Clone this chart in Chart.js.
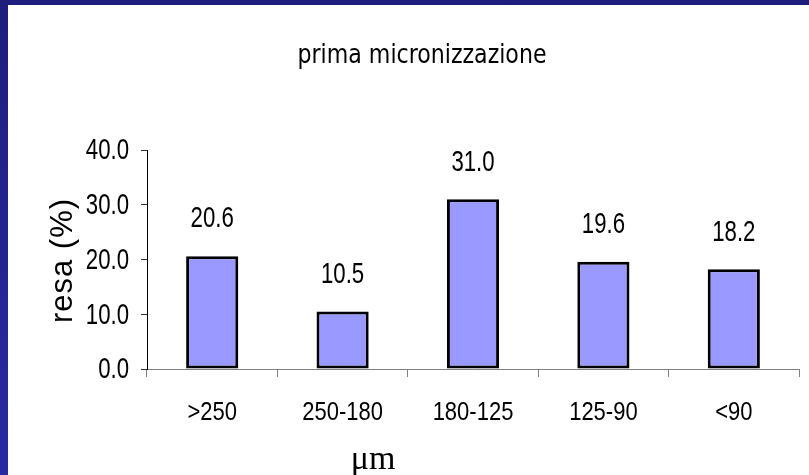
<!DOCTYPE html>
<html>
<head>
<meta charset="utf-8">
<script src="https://cdn.jsdelivr.net/npm/chart.js@4.4.0/dist/chart.umd.min.js"></script>
<style>
  html, body { margin: 0; padding: 0; }
  body { width: 809px; height: 475px; background: linear-gradient(#1e1e7c, #2a2aa2); position: relative; overflow: hidden; }
  #box { position: absolute; left: 8px; top: 5px; width: 801px; height: 470px; background: #fff; }
</style>
</head>
<body>
<div id="box"><canvas id="chart"></canvas></div>
<script>
// ===== DATA =====
const categories = [">250", "250-180", "180-125", "125-90", "<90"];
const resa = [20.6, 10.5, 31.0, 19.6, 18.2];
const yTicks = [0, 10, 20, 30, 40];

const chartTitle = "prima micronizzazione";
const yTitle = "resa (%)";
const xTitle = "\u03bcm";

const sansFont = "'Liberation Sans', Arial, sans-serif";

// draws text squeezed horizontally (the original font is a narrow one)
function narrowText(ctx, text, x, y, size, squeeze, align) {
  ctx.save();
  ctx.font = size + "px " + sansFont;
  ctx.translate(x, y);
  ctx.scale(squeeze, 1);
  ctx.textAlign = align;
  ctx.textBaseline = "middle";
  ctx.fillText(text, 0, 0);
  ctx.restore();
}

// ===== EXTRA TEXT (labels, titles) =====
const textPlugin = {
  id: "texts",
  afterDatasetsDraw(chart) {
    const ctx = chart.ctx;
    const area = chart.chartArea;
    const xs = chart.scales.x;
    const ys = chart.scales.y;
    ctx.save();
    ctx.fillStyle = "#000";

    // y tick labels
    yTicks.forEach(v => {
      narrowText(ctx, v.toFixed(1), area.left - 18, ys.getPixelForValue(v) + 1, 30, 0.74, "right");
    });

    // category labels
    categories.forEach((c, i) => {
      narrowText(ctx, c, xs.getPixelForValue(i), area.bottom + 44, 25, 0.88, "center");
    });

    // value labels above the bars
    const meta = chart.getDatasetMeta(0);
    meta.data.forEach((bar, i) => {
      narrowText(ctx, resa[i].toFixed(1), bar.x, bar.y - 37, 30, 0.74, "center");
    });

    // chart title
    ctx.font = "27px 'DejaVu Sans Condensed', 'DejaVu Sans', sans-serif";
    const w = ctx.measureText(chartTitle).width;
    ctx.save();
    ctx.translate(area.left + 275, 58);
    ctx.scale(249 / w, 1);
    ctx.textAlign = "center";
    ctx.textBaseline = "alphabetic";
    ctx.fillText(chartTitle, 0, 0);
    ctx.restore();

    // y title
    ctx.save();
    ctx.translate(area.left - 84, (area.top + area.bottom) / 2 + 1);
    ctx.rotate(-Math.PI / 2);
    ctx.font = "31px " + sansFont;
    ctx.letterSpacing = "1px";
    ctx.textAlign = "center";
    ctx.textBaseline = "middle";
    ctx.fillText(yTitle, 0, 0);
    ctx.restore();

    // x title
    ctx.font = "34px 'Liberation Serif', 'Times New Roman', serif";
    ctx.textAlign = "center";
    ctx.textBaseline = "alphabetic";
    ctx.fillText(xTitle, area.left + 226, area.bottom + 100);

    ctx.restore();
  }
};

// ===== CHART =====
const ctx = document.getElementById("chart").getContext("2d");

const chart = new Chart(ctx, {
  type: "bar",
  data: {
    labels: categories,
    datasets: [{
      label: "resa (%)",
      data: resa,
      backgroundColor: "#9999ff",
      borderColor: "#000",
      borderWidth: 3,
      borderSkipped: false,
      categoryPercentage: 1,
      barPercentage: 0.4
    }]
  },
  options: {
    responsive: true,
    maintainAspectRatio: false,
    animation: false,
    layout: { padding: { left: 0, top: 145, right: 10, bottom: 0 } },
    plugins: {
      legend: { display: false },
      title: { display: false },
      tooltip: { enabled: false }
    },
    scales: {
      x: {
        afterFit: (scale) => { scale.height = 106; },
        grid: {
          display: true,
          offset: true,
          drawOnChartArea: false,
          tickLength: 8,
          color: "#808080"
        },
        border: { color: "#808080", width: 1 },
        ticks: { color: "rgba(0,0,0,0)", font: { size: 20 } }
      },
      y: {
        min: 0,
        max: 40,
        afterFit: (scale) => { scale.width = 139; },
        afterBuildTicks: (scale) => { scale.ticks = yTicks.map(v => ({ value: v })); },
        grid: {
          display: true,
          drawOnChartArea: false,
          tickLength: 6,
          color: "#333"
        },
        border: { color: "#000", width: 1 },
        ticks: { color: "rgba(0,0,0,0)", font: { size: 20 } }
      }
    }
  },
  plugins: [textPlugin]
});
</script>
</body>
</html>
